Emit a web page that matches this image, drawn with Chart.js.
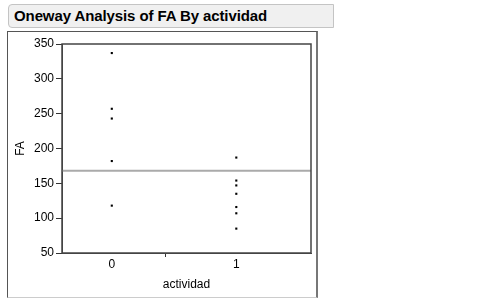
<!DOCTYPE html>
<html>
<head>
<meta charset="utf-8">
<script src="https://cdn.jsdelivr.net/npm/chart.js@4"></script>
<style>
	body { margin: 0; background: #fff; width: 484px; height: 298px; overflow: hidden; position: relative; font-family: "Liberation Sans", Arial, sans-serif; }
	#titlebar { position: absolute; left: 8px; top: 4px; width: 326px; height: 24px; background: #f0f0f0; border: 1px solid #c4c4c4; border-radius: 4px 0 0 4px; box-sizing: border-box; }
	#titlebar span { position: absolute; left: 5px; top: 2px; font-size: 15px; font-weight: bold; color: #000; letter-spacing: -0.1px; }
	#panel { position: absolute; left: 7px; top: 31px; width: 311px; height: 267px; border-left: 1px solid #555; border-top: 1px solid #555; border-right: 2px solid #777; border-bottom: 1px solid #ccc; box-sizing: border-box; }
	#wrap { position: absolute; left: 8px; top: 32px; width: 307px; height: 264px; }
</style>
</head>
<body>
<div id="titlebar"><span>Oneway Analysis of FA By actividad</span></div>
<div id="panel"></div>
<div id="wrap"><canvas id="myChart"></canvas></div>
<script>
const categories = [0, 1];
const faGroup0 = [337, 257, 243, 182, 118];
const faGroup1 = [187, 154, 147, 135, 116, 107, 85];
const meanFA = 168;
const yTicks = [50, 100, 150, 200, 250, 300, 350];

function createChart(){
	var chart = document.getElementById('myChart');

	const xMin = -0.4, xMax = 1.6, midTick = 0.43;

	const points = [];
	faGroup0.forEach(v => points.push({x: categories[0], y: v}));
	faGroup1.forEach(v => points.push({x: categories[1], y: v}));

	// box round the plot area
	const frame = {
		id: 'frame',
		afterDraw(c){
			const a = c.chartArea, ctx = c.ctx;
			ctx.save();
			ctx.strokeStyle = '#444';
			ctx.lineWidth = 1.5;
			ctx.strokeRect(a.left, a.top, a.right - a.left, a.bottom - a.top);
			ctx.restore();
		}
	};

	const config = {
		type: 'scatter',
		data: {
			datasets: [{
				label: 'mean',
				type: 'line',
				data: [{x: xMin, y: meanFA}, {x: xMax, y: meanFA}],
				borderColor: '#aaaaaa',
				borderWidth: 2,
				pointRadius: 0,
				order: 2
			}, {
				label: 'FA',
				data: points,
				pointStyle: 'rect',
				pointRadius: 1.5,
				backgroundColor: '#000',
				borderWidth: 0,
				order: 1
			}]
		},
		options: {
			responsive: true,
			maintainAspectRatio: false,
			animation: false,
			layout: { padding: { top: 12, right: 2, left: 0, bottom: 0 } },
			plugins: { legend: { display: false }, tooltip: { enabled: false } },
			scales: {
				x: {
					type: 'linear',
					min: xMin,
					max: xMax,
					afterBuildTicks: s => { s.ticks = [{value: categories[0]}, {value: midTick}, {value: categories[1]}]; },
					afterFit: s => { s.height = 43; },
					ticks: {
						color: '#000',
						font: { family: 'Liberation Sans', size: 12 },
						padding: 0,
						maxRotation: 0,
						callback: v => (v === midTick ? '' : String(v))
					},
					grid: {
						drawOnChartArea: false,
						tickLength: 4,
						tickColor: ctx => (ctx.tick && ctx.tick.value === midTick ? '#333' : 'rgba(0,0,0,0)')
					},
					border: { color: '#444', width: 1 },
					title: {
						display: true,
						text: 'actividad',
						color: '#000',
						font: { family: 'Liberation Sans', size: 12 },
						padding: { top: 1, bottom: 4 }
					}
				},
				y: {
					min: 50,
					max: 350,
					afterBuildTicks: s => { s.ticks = yTicks.map(v => ({value: v})); },
					afterFit: s => { s.width = 54; },
					ticks: {
						color: '#000',
						font: { family: 'Liberation Sans', size: 12 },
						padding: 2
					},
					grid: { drawOnChartArea: false, tickLength: 6, tickColor: '#333' },
					border: { color: '#444', width: 1 },
					title: {
						display: true,
						text: 'FA',
						color: '#000',
						font: { family: 'Liberation Sans', size: 12 },
						padding: { top: 5, bottom: 0 }
					}
				}
			}
		},
		plugins: [frame]
	};

	const myChart = new Chart(chart, config);
}

document.addEventListener("DOMContentLoaded", createChart);
</script>
</body>
</html>
